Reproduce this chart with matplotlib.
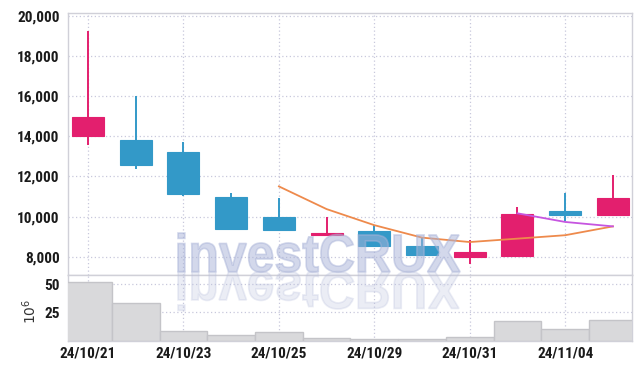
import numpy as np
import matplotlib
matplotlib.use("Agg")
import matplotlib.pyplot as plt
from matplotlib.textpath import TextPath
from matplotlib.patches import PathPatch, Rectangle
from matplotlib.font_manager import FontProperties
from matplotlib.transforms import Affine2D

dates = ["24/10/21", "24/10/22", "24/10/23", "24/10/24", "24/10/25", "24/10/28",
         "24/10/29", "24/10/30", "24/10/31", "24/11/01", "24/11/04", "24/11/05"]
open_ = [14000, 13800, 13220, 10950, 9980, 9100, 9270, 8530, 7990, 8020, 10280, 10070]
high = [19230, 15990, 13690, 11150, 10900, 9980, 9570, 8950, 8820, 10480, 11180, 12090]
low = [13550, 12390, 11030, 9360, 9320, 9100, 8540, 8070, 7630, 8020, 9780, 10070]
close = [14960, 12560, 11110, 9360, 9320, 9180, 8540, 8070, 8240, 10120, 10070, 10900]
ma5 = [np.nan, np.nan, np.nan, np.nan, 11500, 10370, 9570, 8950, 8730, 8900, 9070, 9510]
ma10 = [np.nan] * 9 + [10160, 9730, 9510]
volume = [52.3, 33.8, 8.6, 4.7, 7.7, 2.0, 1.5, 1.0, 3.3, 17.4, 10.3, 18.3]  # x10^6

up_color = "#e31f6e"
down_color = "#3399c8"
grid_color = "#c8c8dc"
spine_color = "#d0d0d8"
tick_font = ["Roboto Condensed", "Roboto", "DejaVu Sans"]

W, H = 642, 369
fig = plt.figure(figsize=(W / 100, H / 100), dpi=100)
ax = fig.add_axes([68 / W, 1 - 275 / H, 564 / W, 262 / H])
axv = fig.add_axes([68 / W, 1 - 340.5 / H, 564 / W, 65.5 / H])

x = np.arange(len(dates))

# candles
for i in x:
    up = close[i] >= open_[i]
    c = up_color if up else down_color
    ax.vlines(i, low[i], high[i], color=c, lw=1.4, zorder=3)
    bottom = min(open_[i], close[i])
    height = max(abs(close[i] - open_[i]), 60)
    ax.add_patch(Rectangle((i - 0.335, bottom), 0.67, height, facecolor=c,
                           edgecolor=c, lw=0.8, zorder=4))

ax.plot(x, ma5, color="#ee8a4c", lw=1.3, zorder=5)
ax.plot(x, ma10, color="#c655e0", lw=1.3, zorder=5)

ax.set_xlim(-0.42, 11.4)
ax.set_ylim(7090, 20130)
ax.set_yticks([8000, 10000, 12000, 14000, 16000, 18000, 20000])
ax.set_yticklabels([f"{v:,}" for v in [8000, 10000, 12000, 14000, 16000, 18000, 20000]])
ax.set_xticks(x[::2])
ax.set_xticklabels([])

# volume
axv.bar(x, volume, width=1.0, color="#d9d9db", edgecolor="#c4c4c8", lw=1.0, zorder=3)
axv.set_xlim(-0.42, 11.4)
axv.set_ylim(0, 58.3)
axv.set_yticks([25, 50])
axv.set_xticks(x[::2])
axv.set_xticklabels([dates[i] for i in x[::2]])
axv.set_ylabel(r"$10^6$", fontsize=10, color="#333333")
axv.yaxis.set_label_coords(-0.052, 0.45)

for a in (ax, axv):
    a.grid(True, color=grid_color, linestyle=(0, (1, 2)), lw=0.9)
    a.set_axisbelow(True)
    a.tick_params(length=0, pad=6, labelsize=11, colors="#1a1a1a")
    for lbl in a.get_xticklabels() + a.get_yticklabels():
        lbl.set_family(tick_font)
        lbl.set_fontweight("bold")
    for s in a.spines.values():
        s.set_color(spine_color)
        s.set_linewidth(1.0)
axv.tick_params(axis="x", pad=4)

# watermark with reflection
fp = FontProperties(family=["Liberation Sans", "DejaVu Sans"], weight="bold")
tp = TextPath((0, 0), "investCRUX", size=100, prop=fp)
ext = tp.get_extents()
sx = (460 - 178) / ext.width
sy = (271.7 - 233) / ext.y1
base_y = H - 271.7
t_main = Affine2D().translate(-ext.x0, 0).scale(sx, sy).translate(178, base_y)
t_refl = Affine2D().translate(-ext.x0, 0).scale(sx, -sy).translate(178, base_y)
fig.add_artist(PathPatch(tp, transform=t_main, facecolor="#a9b3d8", edgecolor="#a9b3d8",
                         lw=1.2, alpha=0.5, zorder=10))
fig.add_artist(PathPatch(tp, transform=t_refl, facecolor="#b8bfdc", edgecolor="#b8bfdc",
                         lw=1.2, alpha=0.28, zorder=10))

fig.savefig("out.png", dpi=100)
